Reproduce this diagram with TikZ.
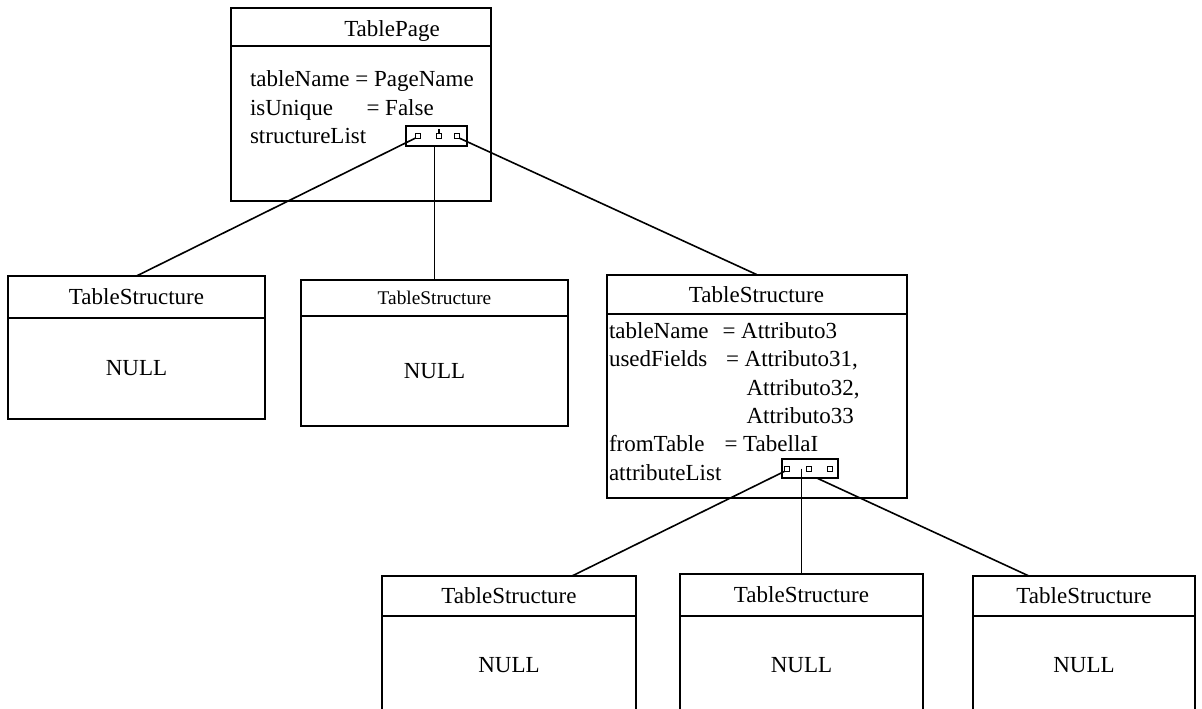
\documentclass[tikz,border=0pt]{standalone}
\usepackage{fontspec}
\setmainfont{Liberation Serif}
\usetikzlibrary{calc}
\begin{document}
\begin{tikzpicture}[x=0.75pt,y=-0.75pt,
  every node/.style={font=\fontsize{17.25}{20}\selectfont},
  sz/.style 2 args={minimum width=#1*0.75pt, minimum height=#2*0.75pt},
  box/.style={draw, line width=1.5pt, inner sep=0pt, outer sep=0pt, anchor=north west},
  attr/.style={anchor=base west, inner sep=0pt, outer sep=0pt},
  listbox/.style={draw, line width=1.3pt, inner sep=0pt, outer sep=0pt},
  sq/.style={draw, line width=1pt, inner sep=0pt, outer sep=0pt, minimum size=5*0.75pt},
  conn/.style={line width=1.2pt}
]
\useasboundingbox (0,0) rectangle (1202,709);
\clip (0,0) rectangle (1202,709);

% root page object
\node[box, sz={260}{38}] (tph) at (231,8.5) {};
\node[box, sz={260}{155}] (tpb) at (tph.south west) {};
\node[anchor=base, inner sep=0pt] (tpt) at (392,36.7) {TablePage};
\node[attr] (tp1) at (250,87) {tableName = PageName};
\node[attr] (tp2) at (250,116) {isUnique};
\node[attr] (tp2v) at (366.5,116) {= False};
\node[attr] (tp3) at (250,143.5) {structureList};
\node[listbox, sz={61}{20}] (l1) at (436.5,135.7) {};
\node[sq] (s1) at (417.7,135.7) {};
\node[sq] (s2) at (439,136) {};
\node[sq] (s3) at (457,135.7) {};
\draw[line width=1pt] (s2.north) -- ++(0,-4);

% first level structures
\node[box, sz={257}{41.7}] (b1h) at (8,276) {TableStructure};
\node[box, sz={257}{101.3}] (b1b) at (b1h.south west) {NULL};

\node[box, sz={267}{36}, font=\fontsize{14.5}{17}\selectfont] (b2h) at (301,280) {TableStructure};
\node[box, sz={267}{110}] (b2b) at (b2h.south west) {NULL};

\node[box, sz={300}{39.5}] (b3h) at (606.5,274.5) {TableStructure};
\node[box, sz={300}{183.5}] (b3b) at (b3h.south west) {};
\node[attr] (a1) at (609,338.3) {tableName};
\node[attr] (a1v) at (722.5,338.3) {= Attributo3};
\node[attr] (a2) at (609,366.7) {usedFields};
\node[attr] (a2v) at (726,366.7) {= Attributo31,};
\node[attr] (a3) at (746.5,395) {Attributo32,};
\node[attr] (a4) at (746.5,423) {Attributo33};
\node[attr] (a5) at (609,451.5) {fromTable};
\node[attr] (a5v) at (724.5,451.5) {= TabellaI};
\node[attr] (a6) at (609,480) {attributeList};
\node[listbox, sz={56}{19}] (l3) at (810,468.5) {};
\node[sq] (s4) at (786.7,469) {};
\node[sq] (s5) at (809,469) {};
\node[sq] (s6) at (830,469) {};

% second level structures
\node[box, sz={254}{40}] (b4h) at (382,576) {TableStructure};
\node[box, sz={254}{98}] (b4b) at (b4h.south west) {NULL};
\node[box, sz={243}{42}] (b5h) at (680,574) {TableStructure};
\node[box, sz={243}{98}] (b5b) at (b5h.south west) {NULL};
\node[box, sz={222}{40}] (b6h) at (973,576) {TableStructure};
\node[box, sz={222}{98}] (b6b) at (b6h.south west) {NULL};

% connectors
\coordinate (r3) at ($(l3.south west)!0.62!(l3.south east)$);
\coordinate (e4) at ($(b4h.north west)!0.748!(b4h.north east)$);
\coordinate (e6) at ($(b6h.north west)!0.252!(b6h.north east)$);
\draw[conn] (s1.south west) -- (b1h.north);
\draw[conn] (l1.south -| b2h.north) -- (b2h.north);
\draw[conn] (s3.south east) -- (b3h.north);
\draw[conn] (s4.south west) -- (e4);
\draw[conn] (l3.center -| b5h.north) -- (b5h.north);
\draw[conn] (r3) -- (e6);
\end{tikzpicture}
\end{document}
